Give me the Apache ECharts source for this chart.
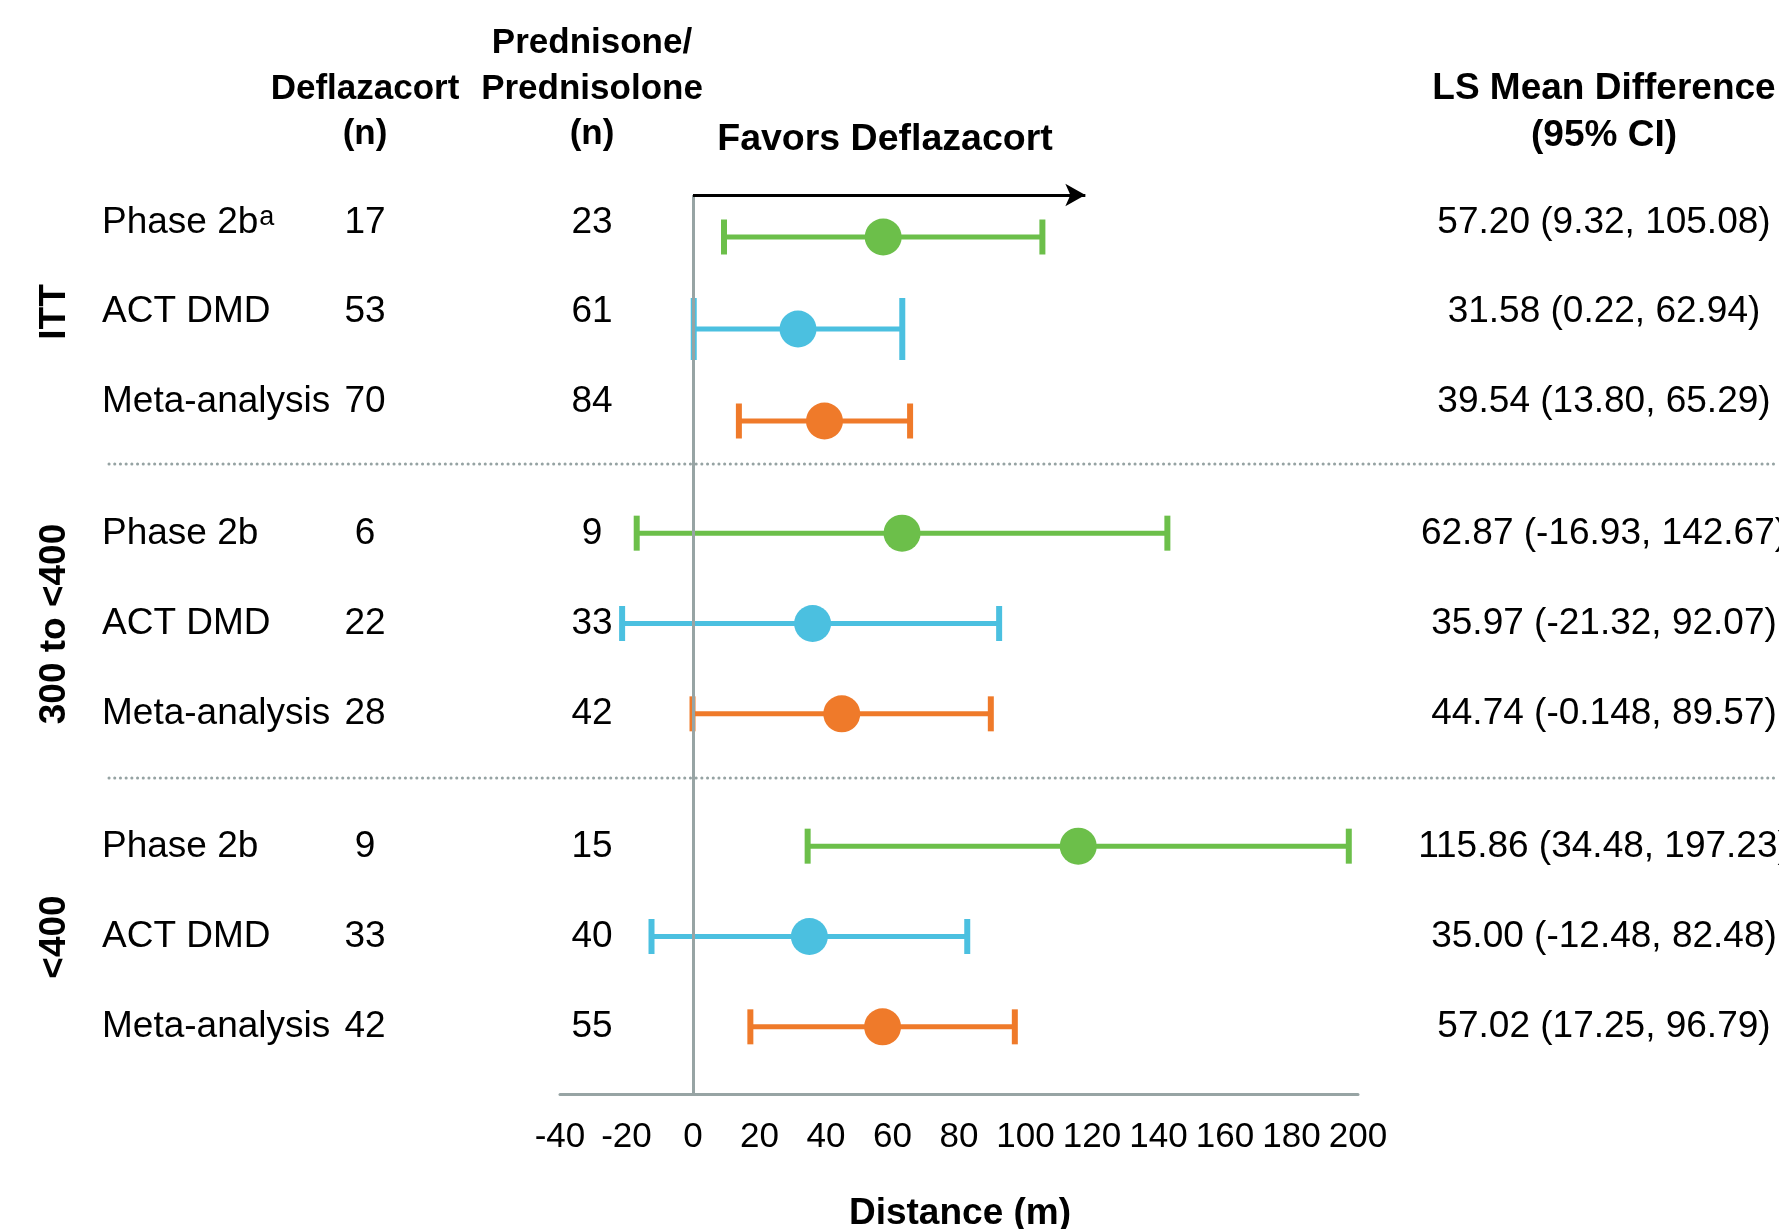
<!DOCTYPE html>
<html>
<head>
<meta charset="utf-8">
<style>
  html, body { margin: 0; padding: 0; background: #ffffff; }
  #chart { width: 1779px; height: 1229px; }
</style>
<script src="https://cdn.jsdelivr.net/npm/echarts@6/dist/echarts.min.js"></script>
</head>
<body>
<div id="chart"></div>
<script>
// ---------------- data ----------------
const groups = ['ITT', '300 to <400', '<400'];
const studies = ['Phase 2b', 'ACT DMD', 'Meta-analysis'];
const nDeflazacort = [[17, 53, 70], [6, 22, 28], [9, 33, 42]];
const nPrednisone = [[23, 61, 84], [9, 33, 42], [15, 40, 55]];
const lsMean = [[57.20, 31.58, 39.54], [62.87, 35.97, 44.74], [115.86, 35.00, 57.02]];
const ciLow = [[9.32, 0.22, 13.80], [-16.93, -21.32, -0.148], [34.48, -12.48, 17.25]];
const ciHigh = [[105.08, 62.94, 65.29], [142.67, 92.07, 89.57], [197.23, 82.48, 96.79]];
const xMin = -40, xMax = 200, xStep = 20;
const favorsArrowEnd = 118;

// ---------------- styles / layout ----------------
const FF = "'Liberation Sans', Arial, Helvetica, sans-serif";
const studyColors = ['#6cbf4a', '#4bc0e0', '#ef7a2a'];
const gray = '#97a4a4';
const plotLeft = 560, plotRight = 421;
const plotGrids = [{top: 191, height: 276}, {top: 488, height: 271}, {top: 801, height: 271}];
const tableGrids = [{top: 178, height: 268}, {top: 489, height: 270}, {top: 802, height: 270}];
const tableLeft = 102;
const colDef = 365, colPred = 592, colCI = 1604;

function fmt(v) {
  return (Math.round(v * 100) / 100 === v) ? v.toFixed(2) : String(v);
}

const grid = [{left: plotLeft, right: plotRight, top: 195, bottom: 135, outerBoundsMode: 'none', containLabel: false}];
const xAxis = [{
  type: 'value', gridIndex: 0, min: xMin, max: xMax, interval: xStep,
  axisLine: {show: true, onZero: false, lineStyle: {color: gray, width: 3}},
  axisTick: {show: false}, splitLine: {show: false},
  axisLabel: {fontFamily: FF, fontSize: 35, color: '#000', margin: 26}
}];
const yAxis = [{type: 'value', gridIndex: 0, min: 0, max: 1, show: false}];
const series = [
  {
    type: 'line', xAxisIndex: 0, yAxisIndex: 0, data: [], showSymbol: false, silent: true,
    markLine: {
      silent: true, symbol: 'none', animation: false,
      label: {show: false},
      lineStyle: {color: gray, width: 3, type: 'solid'},
      data: [{xAxis: 0}]
    }
  },
  {
    type: 'line', xAxisIndex: 0, yAxisIndex: 0, data: [], showSymbol: false, silent: true,
    markLine: {
      silent: true, symbol: ['none', 'arrow'], symbolSize: [17, 20], animation: false,
      label: {show: false},
      lineStyle: {color: '#000', width: 3, type: 'solid'},
      data: [[{coord: [0, 1]}, {coord: [favorsArrowEnd, 1]}]]
    }
  }
];

// plot grids (1..3)
groups.forEach(function (gName, g) {
  const gi = grid.length;
  grid.push({left: plotLeft, right: plotRight, top: plotGrids[g].top, height: plotGrids[g].height, outerBoundsMode: 'none'});
  xAxis.push({type: 'value', gridIndex: gi, min: xMin, max: xMax, interval: xStep, show: false});
  const yi = yAxis.length;
  yAxis.push({type: 'category', gridIndex: gi, data: studies, inverse: true, show: false});
  series.push({
    type: 'custom', xAxisIndex: gi, yAxisIndex: yi, silent: true, z: 3,
    encode: {x: [0, 1], y: 2},
    data: studies.map(function (s, i) { return [ciLow[g][i], ciHigh[g][i], i]; }),
    renderItem: function (params, api) {
      const idx = api.value(2);
      const lo = api.coord([api.value(0), idx]);
      const hi = api.coord([api.value(1), idx]);
      const capHalf = (g === 0 && idx === 1) ? 31 : 17.5;
      const color = studyColors[idx];
      return {
        type: 'group',
        children: [
          {type: 'line', shape: {x1: lo[0], y1: lo[1], x2: hi[0], y2: hi[1]}, style: {stroke: color, lineWidth: 5}},
          {type: 'line', shape: {x1: lo[0], y1: lo[1] - capHalf, x2: lo[0], y2: lo[1] + capHalf}, style: {stroke: color, lineWidth: 6}},
          {type: 'line', shape: {x1: hi[0], y1: hi[1] - capHalf, x2: hi[0], y2: hi[1] + capHalf}, style: {stroke: color, lineWidth: 6}}
        ]
      };
    }
  });
  series.push({
    type: 'scatter', xAxisIndex: gi, yAxisIndex: yi, silent: true, symbolSize: 37, z: 5,
    data: lsMean[g].map(function (v, i) { return {value: [v, i], itemStyle: {color: studyColors[i], opacity: 1}}; })
  });
});

// table grids (4..6)
const labelBase = {fontFamily: FF, color: '#000', interval: 0};
groups.forEach(function (gName, g) {
  const gi = grid.length;
  grid.push({left: tableLeft, right: 0, top: tableGrids[g].top, height: tableGrids[g].height, outerBoundsMode: 'none'});
  xAxis.push({type: 'value', gridIndex: gi, show: false});
  const common = {
    type: 'category', gridIndex: gi, data: studies, inverse: true, position: 'left',
    axisLine: {show: false}, axisTick: {show: false}, splitLine: {show: false}
  };
  // study names + group label
  yAxis.push(Object.assign({}, common, {
    offset: 0,
    name: gName, nameLocation: 'middle', nameRotate: 90, nameGap: 29, nameMoveOverlap: false,
    nameTextStyle: {fontFamily: FF, fontSize: 37, fontWeight: 'bold', color: '#000'},
    axisLabel: Object.assign({}, labelBase, {
      inside: true, margin: 0, fontSize: 37, align: 'left',
      formatter: function (v, i) { return (g === 0 && i === 0) ? v + '{sup|a}' : v; },
      rich: {sup: {fontFamily: FF, fontSize: 27, color: '#000', verticalAlign: 'top', padding: [0, 0, 0, 1]}}
    })
  }));
  // Deflazacort n
  yAxis.push(Object.assign({}, common, {
    offset: -(colDef - tableLeft),
    axisLabel: Object.assign({}, labelBase, {
      margin: 0, fontSize: 37, align: 'center',
      formatter: function (v, i) { return String(nDeflazacort[g][i]); }
    })
  }));
  // Prednisone n
  yAxis.push(Object.assign({}, common, {
    offset: -(colPred - tableLeft),
    axisLabel: Object.assign({}, labelBase, {
      margin: 0, fontSize: 37, align: 'center',
      formatter: function (v, i) { return String(nPrednisone[g][i]); }
    })
  }));
  // LS mean (95% CI)
  yAxis.push(Object.assign({}, common, {
    offset: -(colCI - tableLeft),
    axisLabel: Object.assign({}, labelBase, {
      margin: 0, fontSize: 37, align: 'center',
      formatter: function (v, i) {
        return fmt(lsMean[g][i]) + ' (' + fmt(ciLow[g][i]) + ', ' + fmt(ciHigh[g][i]) + ')';
      }
    })
  }));
});

function headText(text, x, y, size) {
  return {
    type: 'text', x: x, y: y, silent: true,
    style: {text: text, fill: '#000', font: 'bold ' + size + 'px ' + FF, align: 'center', verticalAlign: 'middle'}
  };
}
function sepLine(y) {
  return {
    type: 'line', silent: true,
    shape: {x1: 109, y1: y, x2: 1779, y2: y},
    style: {stroke: '#96a3a3', lineWidth: 3, lineDash: [0.1, 5.6], lineCap: 'round'}
  };
}

const option = {
  animation: false,
  backgroundColor: '#ffffff',
  grid: grid,
  xAxis: xAxis,
  yAxis: yAxis,
  series: series,
  graphic: [
    headText('Deflazacort', colDef, 89.5, 35),
    headText('(n)', colDef, 134, 35),
    headText('Prednisone/', colPred, 43, 35),
    headText('Prednisolone', colPred, 89.5, 35),
    headText('(n)', colPred, 134, 35),
    headText('Favors Deflazacort', 885, 140, 37.5),
    headText('LS Mean Difference', colCI, 89, 37),
    headText('(95% CI)', colCI, 136, 37),
    headText('Distance (m)', 960, 1214, 37),
    sepLine(464),
    sepLine(778)
  ]
};

const chart = echarts.init(document.getElementById('chart'), null, {renderer: 'canvas'});
chart.setOption(option);
</script>
</body>
</html>
